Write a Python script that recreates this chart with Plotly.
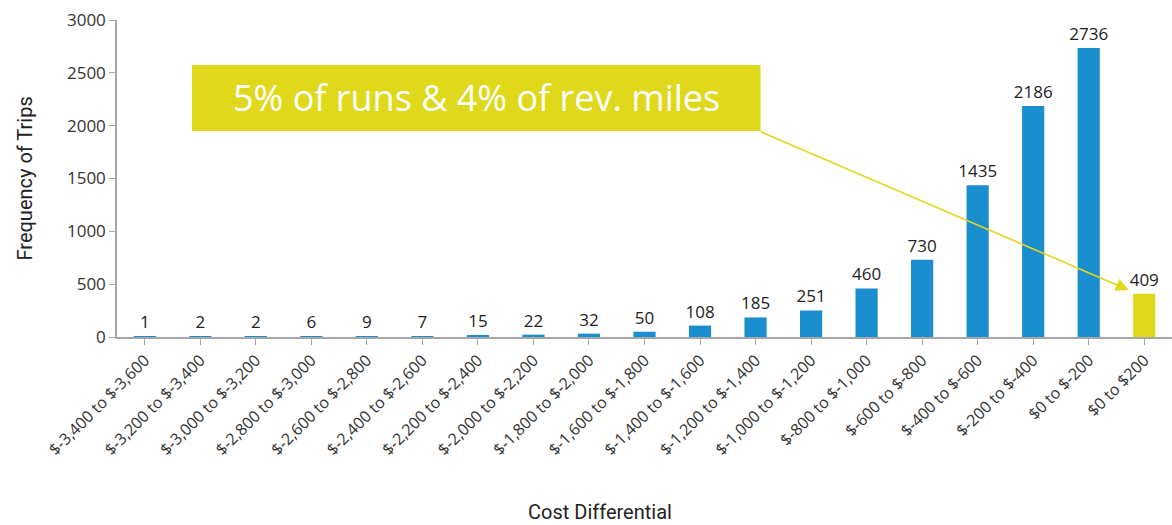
import plotly.graph_objects as go

categories = ['$-3,400 to $-3,600', '$-3,200 to $-3,400', '$-3,000 to $-3,200', '$-2,800 to $-3,000',
              '$-2,600 to $-2,800', '$-2,400 to $-2,600', '$-2,200 to $-2,400', '$-2,000 to $-2,200',
              '$-1,800 to $-2,000', '$-1,600 to $-1,800', '$-1,400 to $-1,600', '$-1,200 to $-1,400',
              '$-1,000 to $-1,200', '$-800 to $-1,000', '$-600 to $-800', '$-400 to $-600',
              '$-200 to $-400', '$0 to $-200', '$0 to $200']
trips = [1, 2, 2, 6, 9, 7, 15, 22, 32, 50, 108, 185, 251, 460, 730, 1435, 2186, 2736, 409]
y_ticks = [0, 500, 1000, 1500, 2000, 2500, 3000]

BLUE = '#1b8ecf'
YELLOW = '#dfd81b'
FONT = 'Open Sans'
TITLE_FONT = 'Roboto'

# last bucket (positive differential) highlighted
colors = [BLUE] * (len(trips) - 1) + [YELLOW]

fig = go.Figure()
fig.add_trace(go.Bar(
    x=list(range(len(categories))),
    y=trips,
    marker=dict(color=colors, line=dict(width=0)),
    text=[str(v) for v in trips],
    textposition='outside',
    cliponaxis=False,
    textfont=dict(family=FONT, size=17, color='#222222'),
))

# callout box + arrow to the highlighted bar
fig.add_shape(type='rect', xref='x', yref='y', x0=0.85, x1=11.09, y0=1950, y1=2574,
              fillcolor=YELLOW, line=dict(width=0), layer='above')
fig.add_annotation(x=5.97, y=2262, xref='x', yref='y', text='5% of runs & 4% of rev. miles',
                   showarrow=False, font=dict(family=FONT, size=36, color='white'))
fig.add_annotation(x=17.72, y=445, ax=11.06, ay=1950, xref='x', yref='y', axref='x', ayref='y',
                   text='', showarrow=True, arrowhead=2, arrowsize=1.6, arrowwidth=1.6,
                   arrowcolor=YELLOW)

# axis titles
fig.add_annotation(x=-117 / 1055, y=0.5, xref='paper', yref='paper', xanchor='left', yanchor='middle',
                   xshift=10, text='Frequency of Trips', textangle=-90, showarrow=False,
                   font=dict(family=TITLE_FONT, size=20, color='#222222'))
fig.add_annotation(x=0.458, y=0, xref='paper', yref='paper', xanchor='center', yanchor='middle',
                   yshift=-175, text='Cost Differential', showarrow=False,
                   font=dict(family=TITLE_FONT, size=20, color='#222222'))

fig.update_layout(
    width=1172, height=525,
    margin=dict(l=117, r=0, t=20, b=188),
    plot_bgcolor='white', paper_bgcolor='white',
    showlegend=False,
    bargap=0.6,
    uniformtext=dict(minsize=17, mode='show'),
    font=dict(family=FONT, color='#222222'),
)
fig.update_xaxes(
    tickmode='array', tickvals=list(range(len(categories))), ticktext=categories,
    range=[-0.5, len(categories) - 0.5], automargin=False,
    tickangle=-45, tickfont=dict(family=FONT, size=16, color='#333333'),
    ticks='outside', tickson='boundaries', ticklen=6, tickcolor='#a6a6a6',
    showline=True, linecolor='#a6a6a6', linewidth=1.5,
    showgrid=False, zeroline=False,
)
fig.update_yaxes(
    range=[0, 3000], tickvals=y_ticks, automargin=False,
    tickfont=dict(family=FONT, size=17, color='#333333'),
    ticks='outside', ticklen=6, tickcolor='#a6a6a6',
    showline=True, linecolor='#a6a6a6', linewidth=1.5,
    showgrid=False, zeroline=False,
)

# page body margin would shift the figure by 8px
fig.write_html('out.html', config={'displayModeBar': False},
               post_script="document.body.style.margin='0';")
